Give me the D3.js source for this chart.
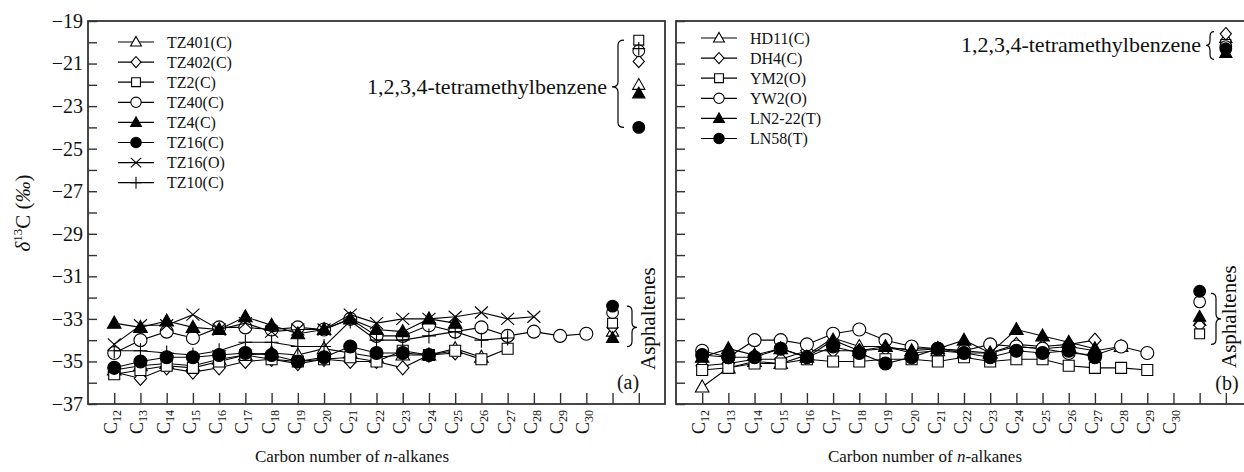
<!DOCTYPE html>
<html><head><meta charset="utf-8">
<script src="https://cdn.jsdelivr.net/npm/d3@7"></script>
<style>body{margin:0;background:#fff}svg{display:block}text{font-family:"Liberation Serif","Times New Roman",serif;fill:#111}</style>
</head><body><svg id="c" width="1244" height="472"></svg>
<script>
// ---------- data ----------
const carbons = [12,13,14,15,16,17,18,19,20,21,22,23,24,25,26,27,28,29,30];
const yTicks = [-37,-36,-35,-34,-33,-32,-31,-30,-29,-28,-27,-26,-25,-24,-23,-22,-21,-20,-19];

// panel (a)
const namesA   = ["TZ401(C)","TZ402(C)","TZ2(C)","TZ40(C)","TZ4(C)","TZ16(C)","TZ16(O)","TZ10(C)"];
const markersA = ["tri","dia","sq","cir","triF","cirF","x","plus"];
const TZ401  = [-35.4,-35.2,-35.1,-35.2,-34.9,-34.7,-34.6,-34.7,-34.4,-34.6,-34.8,-34.7,-34.7,-34.4,-34.8,null,null,null,null];
const TZ402  = [-35.5,-35.8,-35.3,-35.5,-35.3,-35.0,-34.9,-35.1,-34.9,-35.0,-35.0,-35.3,-34.7,-34.6,null,null,null,null,null];
const TZ2    = [-35.6,-35.4,-35.2,-35.3,-35.0,-34.7,-34.9,-35.0,-34.9,-34.8,-35.0,-34.5,-34.7,-34.5,-34.9,-34.4,null,null,null];
const TZ40   = [-34.6,-34.0,-33.6,-33.9,-33.4,-33.4,-33.5,-33.4,-33.5,-33.0,-33.8,-33.8,-33.3,-33.6,-33.4,-33.8,-33.6,-33.8,-33.7];
const TZ4    = [-33.2,-33.4,-33.1,-33.4,-33.5,-32.9,-33.3,-33.7,-33.5,-33.0,-33.5,-33.6,-33.0,-33.2,null,null,null,null,null];
const TZ16C  = [-35.3,-35.0,-34.8,-34.8,-34.7,-34.6,-34.7,-35.0,-34.8,-34.3,-34.6,-34.6,-34.7,null,null,null,null,null,null];
const TZ16O  = [-34.2,-33.3,-33.3,-32.8,-33.5,-33.2,-33.6,-33.5,-33.5,-32.8,-33.2,-33.0,-33.0,-32.9,-32.7,-33.0,-32.9,null,null];
const TZ10   = [-34.5,-34.5,-34.6,-34.7,-34.5,-34.1,-34.1,-34.3,-34.3,-33.1,-34.0,-34.0,-33.8,-33.6,-34.0,-33.9,null,null,null];
const seriesA = [TZ401,TZ402,TZ2,TZ40,TZ4,TZ16C,TZ16O,TZ10];
// asphaltenes / 1,2,3,4-tetramethylbenzene (null = not shown)
const asphA = [-33.6,-33.4,-33.2,-32.7,-33.9,-32.4,null,null];
const tmbA  = [-22.0,-20.9,-19.9,-20.4,-22.4,-24.0,null,-20.3];

// panel (b)
const namesB   = ["HD11(C)","DH4(C)","YM2(O)","YW2(O)","LN2-22(T)","LN58(T)"];
const markersB = ["tri","dia","sq","cir","triF","cirF"];
const HD11  = [-36.2,-35.3,-35.0,-35.1,-34.7,-33.9,-34.3,-34.3,-34.6,-34.5,-34.6,-34.6,-34.3,-34.4,-34.3,-34.5,-34.3,null,null];
const DH4   = [-35.2,-35.1,-34.9,-34.9,-34.5,-34.5,-34.5,-34.4,-34.4,-34.4,-34.5,-34.6,-34.2,-34.3,-34.2,-34.0,null,null,null];
const YM2   = [-35.4,-35.3,-35.1,-35.1,-34.9,-35.0,-35.0,-34.9,-34.9,-35.0,-34.8,-35.0,-34.9,-34.9,-35.2,-35.3,-35.3,-35.4,null];
const YW2   = [-34.5,-34.8,-34.0,-34.0,-34.2,-33.7,-33.5,-34.0,-34.3,-34.4,-34.5,-34.2,-34.3,-34.4,-34.6,-34.7,-34.3,-34.6,null];
const LN222 = [-34.8,-34.4,-34.7,-34.4,-34.8,-34.0,-34.5,-34.3,-34.5,-34.4,-34.0,-34.6,-33.5,-33.8,-34.1,-34.4,null,null,null];
const LN58  = [-34.7,-34.8,-34.8,-34.4,-34.8,-34.3,-34.6,-35.1,-34.8,-34.4,-34.6,-34.8,-34.5,-34.6,-34.5,-34.8,null,null,null];
const seriesB = [HD11,DH4,YM2,YW2,LN222,LN58];
const asphB = [-33.1,-33.3,-33.7,-32.2,-32.9,-31.7];
const tmbB  = [-19.8,-19.6,-20.1,-20.2,-20.5,-20.3];

// ---------- drawing ----------
const svg = d3.select("#c");
const y = d3.scaleLinear().domain([-37,-19]).range([404,21]);
const FS = '"Liberation Serif","Times New Roman",serif';

function mPath(t, k){
  const s=k;
  switch(t){
    case "tri": case "triF": return `M0,${-7*s}L${6.8*s},${5*s}L${-6.8*s},${5*s}Z`;
    case "dia": return `M0,${-7*s}L${6.2*s},0L0,${7*s}L${-6.2*s},0Z`;
    case "sq": return `M${-5.5*s},${-5.5*s}h${11*s}v${11*s}h${-11*s}Z`;
    case "cir": case "cirF": return `M${6.5*s},0A${6.5*s},${6.5*s} 0 1,1 ${-6.5*s},0A${6.5*s},${6.5*s} 0 1,1 ${6.5*s},0Z`;
    case "x": return `M${-6.5*s},${-6*s}L${6.5*s},${6*s}M${-6.5*s},${6*s}L${6.5*s},${-6*s}`;
    case "plus": return `M${-7*s},0H${7*s}M0,${-7.5*s}V${7.5*s}`;
  }
}
function drawMarker(g, t, cx, cy, k){
  const filled = t==="triF"||t==="cirF";
  const open = t==="x"||t==="plus";
  g.append("path").attr("d", mPath(t,k)).attr("transform",`translate(${cx},${cy})`)
   .attr("fill", open?"none":(filled?"#000":"#fff")).attr("stroke","#000").attr("stroke-width",1.1);
}
function brace(g, xe, y1, y2, ym, w, dir){
  const xm = xe + dir*w/2, xt = xe + dir*w, r = 5;
  g.append("path").attr("d",
    `M${xe},${y1}Q${xm},${y1} ${xm},${y1+r}L${xm},${ym-r}Q${xm},${ym} ${xt},${ym}Q${xm},${ym} ${xm},${ym+r}L${xm},${y2-r}Q${xm},${y2} ${xe},${y2}`)
   .attr("fill","none").attr("stroke","#000").attr("stroke-width",1.2);
}

function panel(opt){
  const x = d3.scaleLinear().domain([11,33]).range([opt.x0, opt.x1]);
  const g = svg.append("g");
  g.append("rect").attr("x",opt.x0).attr("y",y(-19)).attr("width",opt.x1-opt.x0).attr("height",y(-37)-y(-19))
   .attr("fill","none").attr("stroke","#333").attr("stroke-width",1.8);
  const ya = g.append("g").attr("transform",`translate(${opt.x0},0)`)
    .call(d3.axisLeft(y).tickValues(yTicks).tickSize(-9).tickPadding(5)
      .tickFormat(v => opt.yLabels && Math.abs(v)%2===1 ? "\u2212"+Math.abs(v) : ""));
  ya.select(".domain").remove();
  ya.selectAll("line").attr("stroke","#333").attr("stroke-width",1.4);
  ya.selectAll("text").attr("font-family",FS).attr("font-size",20).attr("fill","#111");
  const xa = g.append("g").attr("transform",`translate(0,${y(-37)})`)
    .call(d3.axisBottom(x).tickValues(d3.range(12,33)).tickSize(-11).tickFormat(""));
  xa.select(".domain").remove();
  xa.selectAll("line").attr("stroke","#333").attr("stroke-width",1.4);
  carbons.forEach(c=>{
    const t = g.append("text").attr("transform",`translate(${x(c)+3},410) rotate(-90)`).attr("text-anchor","end");
    t.append("tspan").attr("font-size",18).text("C");
    t.append("tspan").attr("font-size",12).attr("dy",4).text(c);
  });
  const xt = g.append("text").attr("x",opt.titleX).attr("y",462).attr("text-anchor","middle").attr("font-size",17);
  xt.append("tspan").text("Carbon number of ");
  xt.append("tspan").attr("font-style","italic").text("n");
  xt.append("tspan").text("-alkanes");
  const line = d3.line().defined(d=>d[1]!=null).x(d=>x(d[0])).y(d=>y(d[1]));
  opt.series.forEach((s,i)=>{
    const pts = carbons.map((c,j)=>[c,s[j]]);
    g.append("path").attr("d",line(pts)).attr("fill","none").attr("stroke","#000").attr("stroke-width",1.1);
    pts.filter(p=>p[1]!=null).forEach(p=>drawMarker(g,opt.markers[i],x(p[0]),y(p[1]),1));
  });
  opt.asph.forEach((v,i)=>{ if(v!=null) drawMarker(g,opt.markers[i],x(31),y(v),0.9); });
  opt.tmb.forEach((v,i)=>{ if(v!=null) drawMarker(g,opt.markers[i],x(32),y(v),0.9); });
  opt.names.forEach((n,i)=>{
    const ly = opt.legY + i*20.1;
    g.append("line").attr("x1",opt.legX).attr("x2",opt.legX+36).attr("y1",ly).attr("y2",ly).attr("stroke","#000").attr("stroke-width",1.2);
    drawMarker(g,opt.markers[i],opt.legX+18,ly,0.8);
    g.append("text").attr("x",opt.legX+49).attr("y",ly+5.5).attr("font-size",16).text(n);
  });
  const tb = opt.tmbBrace;
  brace(g, tb.xe, y(tb.v1), y(tb.v2), y(tb.vm), tb.w, -1);
  g.append("text").attr("x",tb.xe-tb.w-5).attr("y",y(tb.vm)+7).attr("text-anchor","end").attr("font-size",22).text("1,2,3,4-tetramethylbenzene");
  const ab = opt.asphBrace;
  brace(g, ab.xe, y(ab.v1), y(ab.v2), y(ab.vm), 10, 1);
  g.append("text").attr("transform",`translate(${ab.tx},${ab.ty}) rotate(-90)`).attr("font-size",21).text("Asphaltenes");
  g.append("text").attr("x",opt.lab[0]).attr("y",opt.lab[1]).attr("text-anchor","middle").attr("font-size",20).text(opt.label);
}

panel({x0:88,x1:665,yLabels:true,series:seriesA,markers:markersA,names:namesA,asph:asphA,tmb:tmbA,
  legX:118,legY:42,titleX:352,label:"(a)",lab:[628,389],
  tmbBrace:{xe:624,v1:-19.9,v2:-24.0,vm:-22.1,w:12},
  asphBrace:{xe:627,v1:-32.4,v2:-34.3,vm:-33.4,tx:655,ty:370}});
panel({x0:676,x1:1252,yLabels:false,series:seriesB,markers:markersB,names:namesB,asph:asphB,tmb:tmbB,
  legX:701,legY:38,titleX:925,label:"(b)",lab:[1227,390],
  tmbBrace:{xe:1214,v1:-19.5,v2:-20.8,vm:-20.15,w:8},
  asphBrace:{xe:1211,v1:-31.8,v2:-34.2,vm:-33.0,tx:1236,ty:368}});

const yt = svg.append("text").attr("transform","translate(30,213) rotate(-90)").attr("text-anchor","middle").attr("font-size",21);
yt.append("tspan").attr("font-style","italic").text("\u03B4");
yt.append("tspan").attr("font-size",13).attr("dy",-8).text("13");
yt.append("tspan").attr("dy",8).text("C (");
yt.append("tspan").attr("font-style","italic").text("\u2030");
yt.append("tspan").text(")");
</script></body></html>
